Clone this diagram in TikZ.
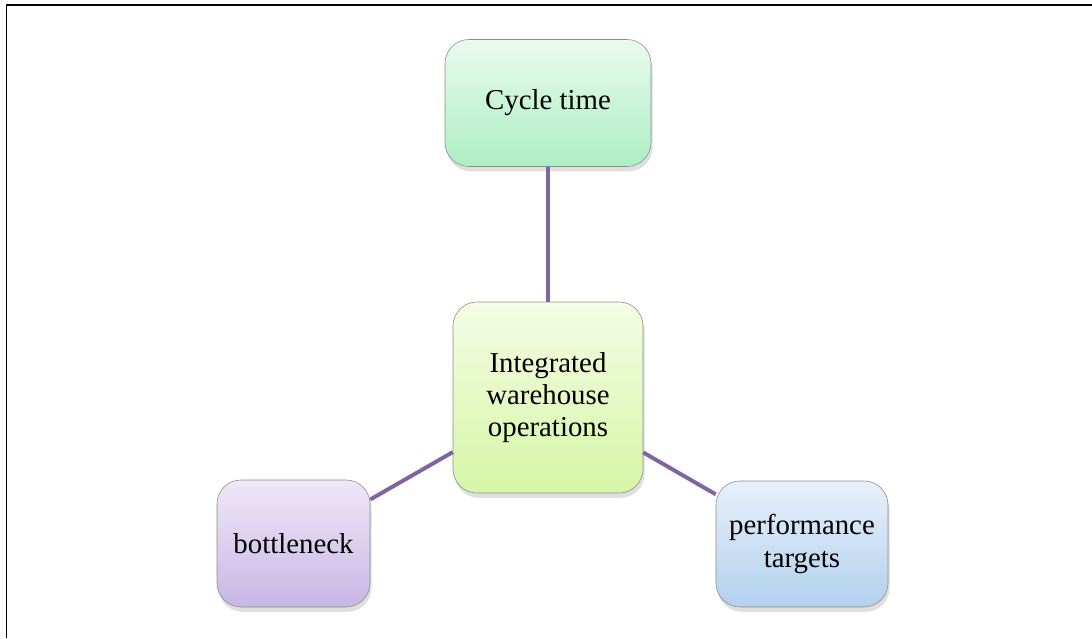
\documentclass[tikz,border=0pt]{standalone}
\usepackage{fontspec}
\setmainfont{Liberation Serif}
\usetikzlibrary{shapes,shadows,positioning}

\definecolor{linkpurple}{RGB}{128,100,162}

\begin{document}
\begin{tikzpicture}

					\tikzstyle{card} = [
						draw=gray!90,
						thin,
						rounded corners=0.6cm,
						align=center,
						font=\fontsize{20.5}{23}\selectfont,
						drop shadow={opacity=0.25, shadow xshift=0.4mm, shadow yshift=-1.2mm}
					]
					\tikzstyle{link} = [draw=linkpurple, line width=2.8pt]

					\useasboundingbox (0,0) rectangle (27.3,15.95);
					\draw [line width=1.4pt] (0.1625,0) -- (0.1625,15.825) -- (27.3,15.825);

					\node (cycle) [style=card, minimum width=5.15cm, minimum height=3.175cm,
						top color={rgb,255:red,234;green,250;blue,238}, bottom color={rgb,255:red,172;green,238;blue,194}] at (13.7,13.375) {Cycle time};
					\node (iwo) [style=card, minimum width=4.75cm, minimum height=4.775cm,
						top color={rgb,255:red,244;green,252;blue,228}, bottom color={rgb,255:red,214;green,246;blue,166}] at (13.7,6.0125) {Integrated\\warehouse\\operations};
					\node (bottleneck) [style=card, minimum width=3.825cm, minimum height=3.175cm,
						top color={rgb,255:red,238;green,232;blue,248}, bottom color={rgb,255:red,200;green,182;blue,228}] at (7.3375,2.3625) {bottleneck};
					\node (perf) [style=card, minimum width=4.3cm, minimum height=3.15cm,
						top color={rgb,255:red,232;green,240;blue,250}, bottom color={rgb,255:red,178;green,208;blue,238}] at (20.05,2.35) {performance\\targets};

					\draw [style=link] (cycle) -- (iwo);
					\draw [style=link] (bottleneck) -- (iwo);
					\draw [style=link] (iwo) -- (perf);

				\end{tikzpicture}
\end{document}
